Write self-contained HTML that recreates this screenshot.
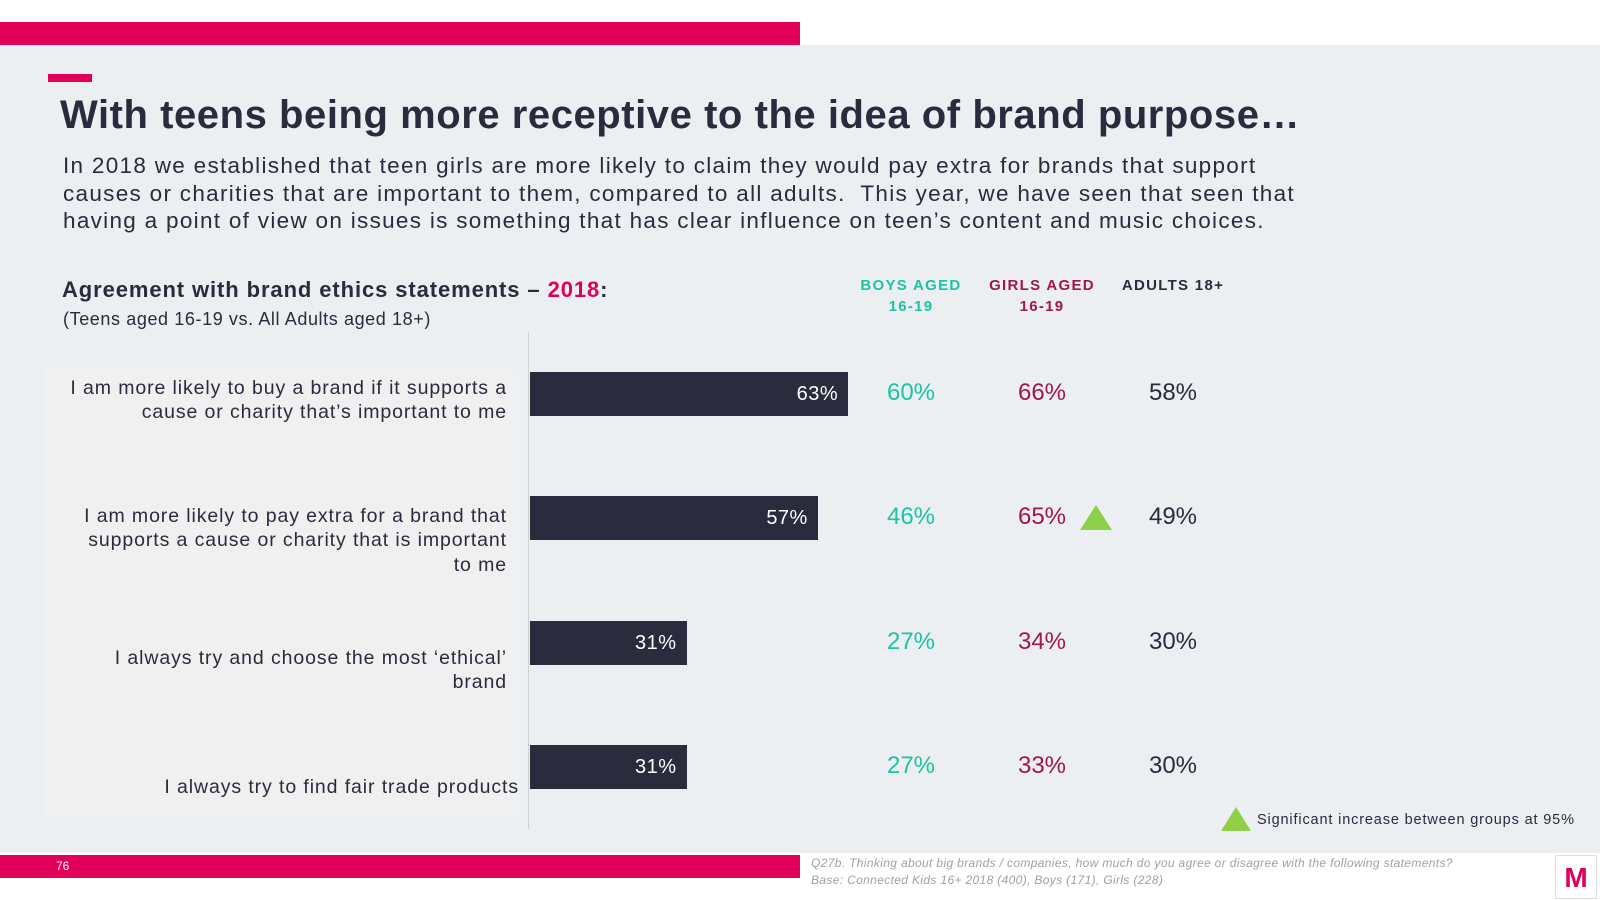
<!DOCTYPE html>
<html><head><meta charset="utf-8"><style>
body{margin:0;width:1600px;height:900px;position:relative;overflow:hidden;background:#fff;font-family:"Liberation Sans",sans-serif;}
.a{position:absolute;margin:0;}
</style></head><body>
<div class="a" style="left:0;top:45px;width:1600px;height:808px;background:#ebeff2"></div>
<div class="a" style="left:0;top:22px;width:800px;height:23px;background:#e0005a"></div>
<div class="a" style="left:48px;top:74px;width:44px;height:8px;background:#e0005a"></div>
<h1 class="a" style="left:60px;top:93px;font-size:40px;font-weight:bold;color:#2a2b3d;letter-spacing:0.55px;white-space:nowrap">With teens being more receptive to the idea of brand purpose…</h1>
<p class="a" style="left:63px;top:152px;width:1400px;font-size:22.5px;line-height:27.5px;letter-spacing:1.3px;color:#2a2b3d">In 2018 we established that teen girls are more likely to claim they would pay extra for brands that support<br>causes or charities that are important to them, compared to all adults.&nbsp; This year, we have seen that seen that<br>having a point of view on issues is something that has clear influence on teen’s content and music choices.</p>
<div class="a" style="left:62px;top:277px;font-size:22px;font-weight:bold;letter-spacing:0.9px;color:#2a2b3d;white-space:nowrap">Agreement with brand ethics statements – <span style="color:#e0005a">2018</span>:</div>
<div class="a" style="left:63px;top:309px;font-size:18px;letter-spacing:0.6px;color:#2a2b3d;white-space:nowrap">(Teens aged 16-19 vs. All Adults aged 18+)</div>
<div class="a" style="left:45px;top:369px;width:474px;height:447px;background:#f0f0f0"></div>
<div class="a" style="left:528px;top:332px;width:1px;height:497px;background:#d0d0d0"></div>
<div class="a" style="left:851px;top:275px;width:120px;text-align:center;font-size:15px;font-weight:bold;letter-spacing:1.3px;line-height:21px;color:#1cc3a5">BOYS AGED<br>16-19</div>
<div class="a" style="left:982px;top:275px;width:120px;text-align:center;font-size:15px;font-weight:bold;letter-spacing:1.3px;line-height:21px;color:#a3164a">GIRLS AGED<br>16-19</div>
<div class="a" style="left:1103px;top:275px;width:140px;text-align:center;font-size:15px;font-weight:bold;letter-spacing:1.3px;line-height:21px;color:#2a2b3d">ADULTS 18+</div>
<div id="chart"></div>
<div class="a" style="left:1221px;top:807px;width:0;height:0;border-left:15px solid transparent;border-right:15px solid transparent;border-bottom:24px solid #8fcf4a"></div>
<div class="a" style="left:1257px;top:812px;font-size:14.5px;letter-spacing:0.85px;color:#2a2b3d;white-space:nowrap">Significant increase between groups at 95%</div>
<div class="a" style="left:0;top:855px;width:800px;height:23px;background:#e0005a"></div>
<div class="a" style="left:56px;top:859px;font-size:12px;color:#fff">76</div>
<div class="a" style="left:811px;top:855px;font-size:12px;line-height:16.5px;font-style:italic;letter-spacing:0.35px;color:#a0a0a0;white-space:nowrap">Q27b. Thinking about big brands / companies, how much do you agree or disagree with the following statements?<br>Base: Connected Kids 16+ 2018 (400), Boys (171), Girls (228)</div>
<div class="a" style="left:1555px;top:855px;width:42px;height:44px;border:1px solid #ddd;box-sizing:border-box;background:#fff;color:#e0005a;font-weight:bold;font-size:28px;text-align:center;line-height:44px">M</div>
<script>
const categories=["I am more likely to buy a brand if it supports a<br>cause or charity that’s important to me","I am more likely to pay extra for a brand that<br>supports a cause or charity that is important<br>to me","I always try and choose the most ‘ethical’<br>brand","I always try to find fair trade products"];
const totalValues=[63,57,31,31];
const boysValues=[60,46,27,27];
const girlsValues=[66,65,34,33];
const adultsValues=[58,49,30,30];
const significant=[false,true,false,false];
const chart=document.getElementById('chart');
const x0=530,pxPer=5.05,rowTop=372,rowStep=124.3,barH=44;
const labelTop=[376,504,646,775];
const xs=v=>v*pxPer;
const yc=i=>rowTop+i*rowStep+barH/2;
function mk(css,html){const d=document.createElement('div');d.className='a';d.style.cssText=css;if(html!==undefined)d.innerHTML=html;chart.appendChild(d);return d;}
categories.forEach((c,i)=>{
 const cy=yc(i);
 const lab=mk(`right:${i==3?1081:1093}px;top:${labelTop[i]}px;text-align:right;font-size:19.5px;line-height:24.4px;letter-spacing:0.9px;color:#2a2b3d;white-space:nowrap`,c);
 
 
 const b=mk(`left:${x0}px;top:${cy-barH/2}px;width:${xs(totalValues[i])}px;height:${barH}px;background:#2a2b3d`);
 
 
 const bl=mk(`left:${x0}px;top:${cy-11}px;width:${xs(totalValues[i])-10}px;text-align:right;font-size:20px;letter-spacing:0.5px;color:#fff`,totalValues[i]+'%');
 
 
 [[boysValues,911,'#1cc3a5','boys-value'],[girlsValues,1042,'#a3164a','girls-value'],[adultsValues,1173,'#2a2b3d','adults-value']].forEach(([arr,cx,col,nm])=>{
  const v=mk(`left:${cx-60}px;top:${cy-15}px;width:120px;text-align:center;font-size:24px;color:${col}`,arr[i]+'%');
  
  
 });
 if(significant[i]){
  const t=mk(`left:1080px;top:${cy-13}px;width:0;height:0;border-left:16px solid transparent;border-right:16px solid transparent;border-bottom:25px solid #8fcf4a`);
  
  
 }
});
</script>
</body></html>
